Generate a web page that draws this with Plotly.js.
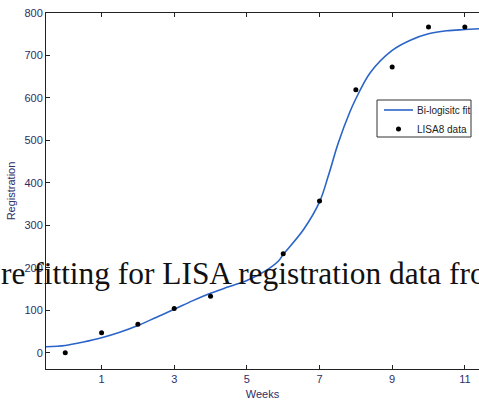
<!DOCTYPE html>
<html>
<head>
<meta charset="utf-8">
<script src="https://cdn.plot.ly/plotly-3.0.1.min.js"></script>
<style>html,body{margin:0;padding:0;background:#fff;overflow:hidden;}#chart{width:479px;height:403px;}</style>
</head>
<body>
<div id="chart"></div>
<script>
// Data
const weeks = [0, 1, 2, 3, 4, 6, 7, 8, 9, 10, 11];
const registrations = [0, 47, 67, 104, 133, 233, 357, 619, 673, 767, 767];

const fitWeeks = [-0.53, 0, 0.5, 1, 1.5, 2, 2.5, 3, 3.5, 4, 4.5, 5, 5.5, 5.87, 6.0, 6.56, 7.0, 7.24, 7.52, 7.84, 8.0, 8.4, 9.0, 9.5, 10, 10.5, 11, 11.39];
const fitValues = [14, 17, 25, 35, 48, 64, 83, 102, 122, 140, 155, 170, 192, 216, 231, 290, 355, 416, 495, 568, 598, 660, 712, 736, 751, 758, 761, 763];

const xTicks = [1, 3, 5, 7, 9, 11];
const yTicks = [0, 100, 200, 300, 400, 500, 600, 700, 800];
const overlayText = 're fitting for LISA registration data fro';
const legendNames = ['Bi-logisitc fit', 'LISA8 data'];

const labelFont = {family: '"Liberation Sans Narrow", "Liberation Sans", Arial, sans-serif', size: 11, color: '#2e2e66'};
const lineColor = '#2a64c8';

const traces = [
  {x: fitWeeks, y: fitValues, mode: 'lines', name: legendNames[0],
   line: {color: lineColor, width: 1.6, shape: 'spline', smoothing: 1}},
  {x: weeks, y: registrations, mode: 'markers', name: legendNames[1],
   marker: {color: '#000', size: 5}}
];

// pixel helpers for the hand-built legend box (plot area 46..479 x 13..369)
const PL = 46, PW = 433, PT = 13, PH = 356;
const px = v => (v - PL) / PW;
const py = v => 1 - (v - PT) / PH;

const legendFont = {family: labelFont.family, size: 10, color: '#222'};

const layout = {
  width: 479, height: 403,
  margin: {l: 46, r: 0, t: 13, b: 34, pad: 0},
  paper_bgcolor: '#fff', plot_bgcolor: '#fff',
  showlegend: false,
  xaxis: {range: [-0.53, 11.39], tickvals: xTicks, ticktext: xTicks.map(String), automargin: false,
    ticks: 'inside', ticklen: 4, tickcolor: '#222', showline: true, linecolor: '#222', linewidth: 1,
    mirror: 'ticks', showgrid: false, zeroline: false, tickfont: labelFont,
    title: {text: 'Weeks', font: labelFont, standoff: 6}},
  yaxis: {range: [-38.5, 800], tickvals: yTicks, ticktext: yTicks.map(String), automargin: false,
    ticks: 'inside', ticklen: 4, tickcolor: '#222', showline: true, linecolor: '#222', linewidth: 1,
    mirror: false, showgrid: false, zeroline: false, tickfont: labelFont,
    title: {text: 'Registration', font: labelFont, standoff: 6}},
  shapes: [
    {type: 'rect', xref: 'paper', yref: 'paper', x0: px(377), x1: px(471), y0: py(100), y1: py(137),
     line: {color: '#333', width: 1}, fillcolor: '#fff', layer: 'above'},
    {type: 'line', xref: 'paper', yref: 'paper', x0: px(384), x1: px(413), y0: py(110), y1: py(110),
     line: {color: lineColor, width: 1.6}, layer: 'above'},
    {type: 'circle', xref: 'paper', yref: 'paper', x0: px(396), x1: px(401), y0: py(126.5), y1: py(131.5),
     line: {color: '#000', width: 0}, fillcolor: '#000', layer: 'above'}
  ],
  annotations: [
    {text: overlayText, xref: 'paper', yref: 'paper',
     x: -0.1085, y: 0.268, xanchor: 'left', yanchor: 'middle', showarrow: false,
     font: {family: '"Liberation Serif", "DejaVu Serif", serif', size: 31.4, color: '#111'}},
    {text: legendNames[0], xref: 'paper', yref: 'paper', x: px(415), y: py(110),
     xanchor: 'left', yanchor: 'middle', showarrow: false, font: legendFont},
    {text: legendNames[1], xref: 'paper', yref: 'paper', x: px(415), y: py(129),
     xanchor: 'left', yanchor: 'middle', showarrow: false, font: legendFont}
  ]
};

Plotly.newPlot('chart', traces, layout, {displayModeBar: false, staticPlot: true});
</script>
</body>
</html>
